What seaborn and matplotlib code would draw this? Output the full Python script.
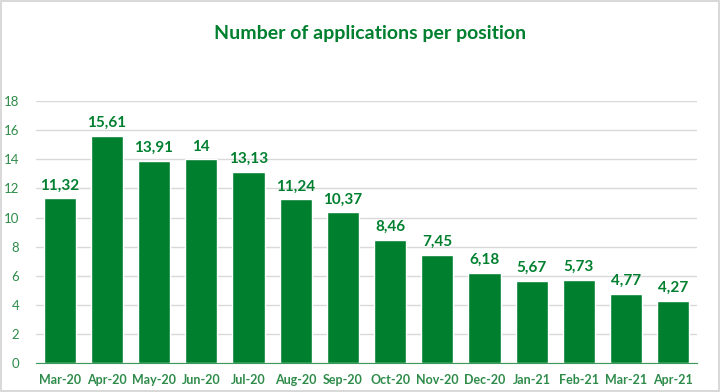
import matplotlib.pyplot as plt
import seaborn as sns
import pandas as pd

months = ["Mar-20", "Apr-20", "May-20", "Jun-20", "Jul-20", "Aug-20", "Sep-20",
          "Oct-20", "Nov-20", "Dec-20", "Jan-21", "Feb-21", "Mar-21", "Apr-21"]
apps_per_position = [11.32, 15.61, 13.91, 14, 13.13, 11.24, 10.37,
                     8.46, 7.45, 6.18, 5.67, 5.73, 4.77, 4.27]
yticks = [0, 2, 4, 6, 8, 10, 12, 14, 16, 18]

green = "#00802F"
tick_green = "#2E8B4A"

sns.set_style("white")
plt.rcParams['font.family'] = ['Lato', 'DejaVu Sans']

df = pd.DataFrame({'month': months, 'value': apps_per_position})

fig = plt.figure(figsize=(7.2, 3.92), dpi=100, edgecolor='#d9d9d9', linewidth=1.5)
ax = fig.add_axes([0.05, 0.074, 0.918, 0.668])

sns.barplot(data=df, x='month', y='value', color=green, saturation=1, width=0.68, ax=ax)

ax.set_ylim(0, 18)
ax.set_yticks(yticks)
ax.set_xlim(-0.5, len(months) - 0.5)
ax.yaxis.grid(True, color='#d9d9d9', linewidth=1)
ax.set_axisbelow(True)
for s in ['top', 'right', 'left']:
    ax.spines[s].set_visible(False)
ax.spines['bottom'].set_color('#3a9a5a')
ax.set_xlabel('')
ax.set_ylabel('')
ax.tick_params(axis='both', length=0)
ax.tick_params(axis='y', colors=tick_green, labelsize=9.5, pad=12)
ax.tick_params(axis='x', colors=tick_green, labelsize=9, pad=8)
for lab in ax.get_xticklabels():
    lab.set_fontweight('bold')

for i, v in enumerate(apps_per_position):
    txt = f"{v:g}".replace('.', ',')
    ax.text(i, v + 0.4, txt, ha='center', va='bottom', color=green,
            fontsize=11, fontweight='bold')

fig.text(0.514, 0.915, "Number of applications per position", ha='center', va='center',
         color=green, fontsize=14, fontweight='bold')

fig.savefig("out.png", dpi=100, edgecolor=fig.get_edgecolor())
